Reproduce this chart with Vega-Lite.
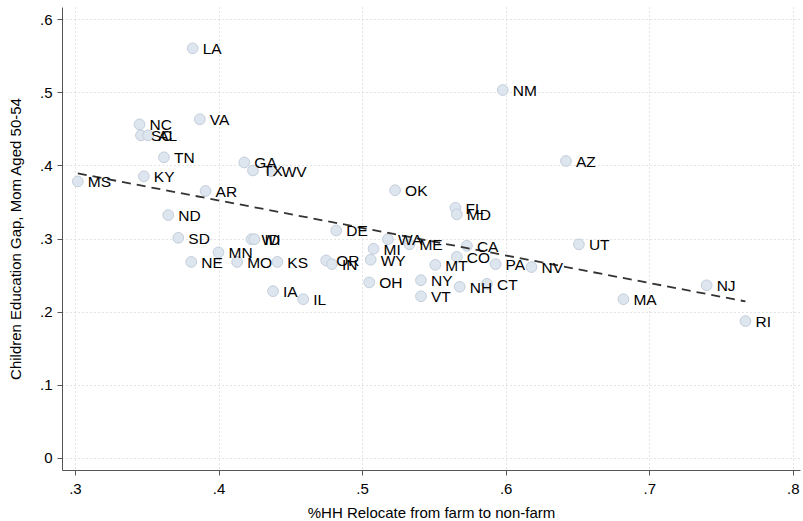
{
  "$schema": "https://vega.github.io/schema/vega-lite/v6.json",
  "width": 738,
  "height": 463,
  "autosize": "none",
  "padding": {"left": 62, "top": 7, "right": 3, "bottom": 51},
  "background": "white",
  "config": {
    "view": {"stroke": null},
    "font": "Liberation Sans",
    "axis": {
      "domainColor": "#555",
      "tickColor": "#555",
      "tickSize": 5,
      "labelFont": "Liberation Sans",
      "titleFont": "Liberation Sans",
      "labelFontSize": 15,
      "titleFontSize": 15,
      "labelColor": "#000",
      "titleColor": "#000",
      "titleFontWeight": "normal",
      "gridColor": "#c8c8c8",
      "gridDash": [1, 3],
      "gridWidth": 1
    }
  },
  "datasets": {
    "states": [
      {"state": "LA", "relocate": 0.382, "gap": 0.560},
      {"state": "NM", "relocate": 0.598, "gap": 0.503},
      {"state": "VA", "relocate": 0.387, "gap": 0.463},
      {"state": "NC", "relocate": 0.345, "gap": 0.456},
      {"state": "SC", "relocate": 0.346, "gap": 0.441},
      {"state": "AL", "relocate": 0.351, "gap": 0.441},
      {"state": "TN", "relocate": 0.362, "gap": 0.411},
      {"state": "KY", "relocate": 0.348, "gap": 0.385},
      {"state": "MS", "relocate": 0.302, "gap": 0.378},
      {"state": "GA", "relocate": 0.418, "gap": 0.404},
      {"state": "TX", "relocate": 0.424, "gap": 0.393},
      {"state": "WV", "relocate": 0.437, "gap": 0.392},
      {"state": "AR", "relocate": 0.391, "gap": 0.365},
      {"state": "ND", "relocate": 0.365, "gap": 0.332},
      {"state": "SD", "relocate": 0.372, "gap": 0.301},
      {"state": "NE", "relocate": 0.381, "gap": 0.268},
      {"state": "MN", "relocate": 0.400, "gap": 0.281},
      {"state": "MO", "relocate": 0.413, "gap": 0.268},
      {"state": "KS", "relocate": 0.441, "gap": 0.268},
      {"state": "WI", "relocate": 0.423, "gap": 0.299},
      {"state": "ID", "relocate": 0.425, "gap": 0.299},
      {"state": "IA", "relocate": 0.438, "gap": 0.228},
      {"state": "IL", "relocate": 0.459, "gap": 0.217},
      {"state": "DE", "relocate": 0.482, "gap": 0.311},
      {"state": "OR", "relocate": 0.475, "gap": 0.270},
      {"state": "IN", "relocate": 0.479, "gap": 0.265},
      {"state": "OK", "relocate": 0.523, "gap": 0.366},
      {"state": "FL", "relocate": 0.565, "gap": 0.342},
      {"state": "MD", "relocate": 0.566, "gap": 0.333},
      {"state": "MI", "relocate": 0.508, "gap": 0.286},
      {"state": "WA", "relocate": 0.518, "gap": 0.299},
      {"state": "ME", "relocate": 0.533, "gap": 0.292},
      {"state": "WY", "relocate": 0.506, "gap": 0.271},
      {"state": "OH", "relocate": 0.505, "gap": 0.240},
      {"state": "NY", "relocate": 0.541, "gap": 0.243},
      {"state": "VT", "relocate": 0.541, "gap": 0.221},
      {"state": "MT", "relocate": 0.551, "gap": 0.264},
      {"state": "CO", "relocate": 0.566, "gap": 0.275},
      {"state": "CA", "relocate": 0.573, "gap": 0.290},
      {"state": "NH", "relocate": 0.568, "gap": 0.234},
      {"state": "CT", "relocate": 0.587, "gap": 0.238},
      {"state": "PA", "relocate": 0.593, "gap": 0.265},
      {"state": "NV", "relocate": 0.618, "gap": 0.261},
      {"state": "UT", "relocate": 0.651, "gap": 0.292},
      {"state": "NJ", "relocate": 0.740, "gap": 0.236},
      {"state": "MA", "relocate": 0.682, "gap": 0.217},
      {"state": "RI", "relocate": 0.767, "gap": 0.187},
      {"state": "AZ", "relocate": 0.642, "gap": 0.406}
    ],
    "fit": [
      {"relocate": 0.302, "gap": 0.389},
      {"relocate": 0.767, "gap": 0.214}
    ]
  },
  "layer": [
    {
      "data": {"name": "states"},
      "mark": {"type": "point", "shape": "circle", "filled": true, "size": 115, "fill": "#dde5ee", "stroke": "#c3cedb", "strokeWidth": 1, "opacity": 1},
      "encoding": {
        "x": {
          "field": "relocate", "type": "quantitative",
          "scale": {"domain": [0.291, 0.805], "nice": false, "zero": false},
          "axis": {
            "title": "%HH Relocate from farm to non-farm",
            "values": [0.3, 0.4, 0.5, 0.6, 0.7, 0.8],
            "labelExpr": "replace(format(datum.value, '.1f'), '0.', '.')",
            "grid": true,
            "labelPadding": 6,
            "titlePadding": 9
          }
        },
        "y": {
          "field": "gap", "type": "quantitative",
          "scale": {"domain": [-0.0165, 0.6165], "nice": false, "zero": false},
          "axis": {
            "title": "Children Education Gap, Mom Aged 50-54",
            "values": [0, 0.1, 0.2, 0.3, 0.4, 0.5, 0.6],
            "labelExpr": "datum.value == 0 ? '0' : replace(format(datum.value, '.1f'), '0.', '.')",
            "grid": true,
            "labelPadding": 5,
            "titlePadding": 16
          }
        }
      }
    },
    {
      "data": {"name": "fit"},
      "mark": {"type": "line", "color": "#333", "strokeWidth": 1.8, "strokeDash": [9, 6]},
      "encoding": {
        "x": {"field": "relocate", "type": "quantitative"},
        "y": {"field": "gap", "type": "quantitative"}
      }
    },
    {
      "data": {"name": "states"},
      "mark": {"type": "text", "align": "left", "baseline": "middle", "dx": 10, "dy": 1, "fontSize": 15.5, "font": "Liberation Sans", "color": "#000"},
      "encoding": {
        "x": {"field": "relocate", "type": "quantitative"},
        "y": {"field": "gap", "type": "quantitative"},
        "text": {"field": "state"}
      }
    }
  ]
}
